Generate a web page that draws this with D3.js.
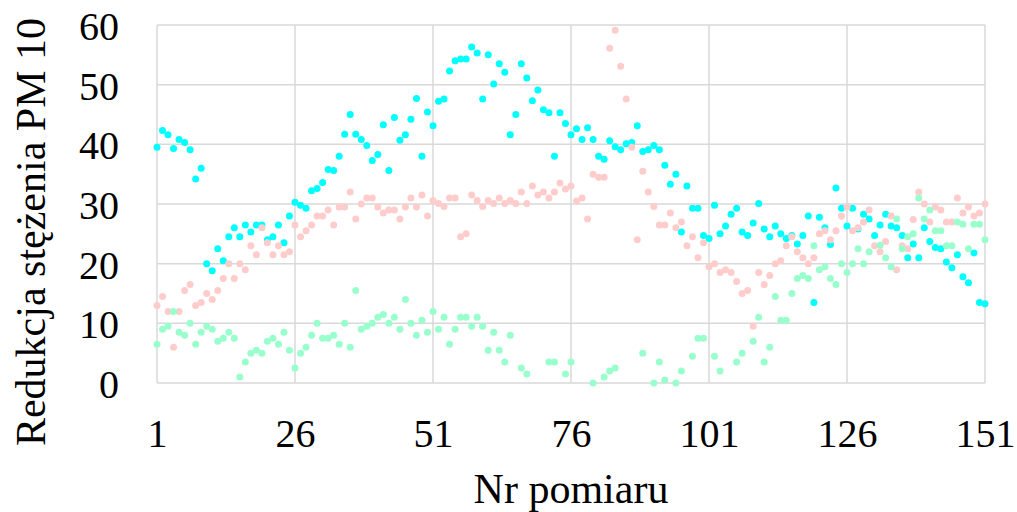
<!DOCTYPE html>
<html>
<head>
<meta charset="utf-8">
<script src="https://cdn.jsdelivr.net/npm/d3@7"></script>
<style>
  body { margin: 0; background: #fff; }
  text { font-family: "Liberation Serif", "Times New Roman", serif; fill: #000; }
</style>
</head>
<body>
<svg id="chart" width="1017" height="512"></svg>
<script>
// tick labels
const xTicks = [1, 26, 51, 76, 101, 126, 151]
const yTicks = [0, 10, 20, 30, 40, 50, 60]

// series values, measurement 1..151 (null = no point shown)
const cyanVals = [
  39.5, 42.3, 41.6, 39.3, 40.8, 40.3, 39.1, 34.2, 36.0, 20.0,
  18.8, 22.5, 20.5, 24.5, 26.0, 24.5, 26.5, 25.3, 26.5, 26.5,
  24.0, 24.5, 26.5, 23.5, 28.0, 30.3, 29.8, 29.3, 32.2, 32.6,
  33.6, 35.8, 35.6, 38.0, 41.7, 45.0, 41.7, 40.8, 39.8, 37.3,
  38.3, 43.3, 35.6, 44.5, 40.7, 41.6, 44.2, 47.7, 38.0, 45.4,
  43.1, 47.2, 47.6, 52.3, 54.0, 54.3, 54.3, 56.3, 55.3, 47.6,
  55.0, 50.1, 53.5, 52.1, 41.6, 45.0, 53.5, 51.1, 47.3, 49.1,
  45.8, 45.3, 38.0, 45.3, 43.5, 41.6, 42.6, 40.8, 42.8, 40.8,
  38.0, 37.5, 40.6, 39.6, 39.1, 40.1, 40.3, 43.1, 38.8, 39.1,
  39.8, 39.1, 36.5, 33.3, 35.0, 25.3, 33.0, 29.3, 29.3, 24.7,
  24.2, 29.8, 25.0, 26.3, 28.3, 29.3, 25.3, 24.7, 26.8, 30.1,
  25.8, 24.5, 26.3, 25.0, 24.2, 24.7, 23.3, 24.7, 28.0, 13.5,
  27.8, 26.0, 23.2, 32.7, 29.3, 26.3, 29.3, 25.8, 28.3, 27.5,
  24.7, 26.5, 28.3, 26.3, 26.0, 24.7, 21.0, 23.3, 21.0, 26.0,
  23.7, 22.7, 22.5, 20.3, 19.3, 21.5, 17.8, 16.8, 21.8, 13.5,
  13.3
]
const pinkVals = [
  13.0, 14.5, 12.0, 6.0, 12.0, 15.5, 16.5, 13.0, 13.5, 15.0,
  14.0, 15.5, 17.5, 20.0, 17.5, 20.0, 19.0, 23.0, 21.5, 26.0,
  23.5, 21.5, 23.0, 21.5, 22.0, 26.5, 24.5, 25.5, 26.5, 28.0,
  28.0, 29.0, 26.5, 29.5, 29.5, 32.0, 27.5, 30.0, 31.0, 31.0,
  29.5, 28.5, 29.0, 29.0, 27.5, 29.5, 31.0, 29.5, 31.5, 28.0,
  30.6, 30.1, 29.6, 31.0, 31.0, 24.5, 25.0, 31.5, 30.6, 29.6,
  30.6, 30.1, 31.0, 30.1, 30.6, 30.1, 32.0, 30.1, 33.0, 31.5,
  32.0, 31.0, 32.0, 33.5, 32.5, 33.0, 30.5, 31.0, 27.5, 35.0,
  34.5, 34.5, 56.1, 59.1, 53.1, 47.6, 39.5, 24.0, 35.5, 32.0,
  29.6, 26.5, 26.5, 28.5, 26.0, 27.0, 23.0, 24.5, 21.0, 23.5,
  19.5, 20.0, 18.5, 19.0, 18.5, 17.0, 15.0, 15.5, 9.5, 18.5,
  16.5, 18.0, 20.0, 20.5, 23.0, 24.5, 22.0, 21.0, 20.0, 21.0,
  25.0, 25.5, 24.0, 25.5, 28.0, 29.5, 25.5, 26.0, 27.0, 29.0,
  23.0, 22.0, 23.7, 28.0, 19.0, 23.0, 22.5, 27.4, 32.0, 30.0,
  27.0, 29.5, 29.0, 27.0, 27.0, 31.0, 28.5, 29.5, 28.0, 28.5,
  30.0
]
const greenVals = [
  6.5, 9.0, 9.5, 12.0, 8.5, 8.0, 10.0, 6.5, 8.5, 9.5,
  9.0, 7.0, 7.5, 8.5, 7.5, 1.0, 3.5, 5.0, 5.5, 5.0,
  7.0, 7.5, 6.5, 8.5, 5.5, 2.5, 5.0, 6.0, 8.0, 10.0,
  7.5, 7.5, 8.0, 6.5, 10.0, 6.0, 15.5, 9.0, 9.5, 10.0,
  11.0, 11.5, 10.0, 11.0, 9.0, 14.0, 10.0, 8.0, 10.5, 8.5,
  12.0, 9.0, 11.0, 6.5, 9.0, 11.0, 11.0, 9.5, 11.0, 9.5,
  5.5, 8.5, 5.5, 3.5, 8.0, null, 2.5, 1.5, null, null,
  null, 3.5, 3.5, null, 1.5, 3.5, null, null, null, 0.0,
  null, 1.0, 2.0, 2.5, null, null, null, null, 5.0, null,
  0.0, 3.5, 0.5, null, 0.0, 2.0, null, 4.5, 7.5, 7.5,
  null, 4.5, 2.0, null, null, 3.5, 5.0, null, 7.0, 11.0,
  3.5, 6.0, 14.5, 10.5, 10.5, 15.0, 17.5, 18.0, 17.5, 23.0,
  19.0, 19.5, 17.5, 16.5, 20.0, 18.5, 20.0, 22.5, 20.0, 22.0,
  null, 23.1, 21.0, 19.5, 27.5, 22.5, 24.5, 25.0, 31.0, 27.5,
  29.0, 25.5, 25.5, 23.0, 23.0, 27.0, 26.6, 22.5, 26.6, 26.6,
  24.0
]

const series = [
  {name: 'cyan', color: '#00ffff', values: cyanVals},
  {name: 'pink', color: '#ffcccc', values: pinkVals},
  {name: 'green', color: '#99ffcc', values: greenVals}
]

svg = d3.select('#chart')
left = 157
right = 985
top_ = 25
bottom = 383

x = d3.scaleLinear().domain([1, 151]).range([left, right])
y = d3.scaleLinear().domain([0, 60]).range([bottom, top_])

// grid
svg.append('g').selectAll('line').data(yTicks)
  .enter().append('line')
  .attr('x1', left).attr('x2', right)
  .attr('y1', function(d){ return y(d) }).attr('y2', function(d){ return y(d) })
  .style('stroke', '#d9d9d9').style('stroke-width', 1.5)

svg.append('g').selectAll('line').data(xTicks)
  .enter().append('line')
  .attr('x1', function(d){ return x(d) }).attr('x2', function(d){ return x(d) })
  .attr('y1', top_).attr('y2', bottom)
  .style('stroke', '#d9d9d9').style('stroke-width', 1.5)

// axes (labels only, grid drawn above)
yAxis = svg.append('g')
  .attr('transform', 'translate(' + (left - 38) + ',0)')
  .call(d3.axisLeft(y).tickValues(yTicks).tickSize(0).tickPadding(0))
yAxis.select('.domain').remove()
yAxis.selectAll('text')
  .style('font-family', '"Liberation Serif", "Times New Roman", serif')
  .style('font-size', '40px')
  .attr('dy', '0.36em')

xAxis = svg.append('g')
  .attr('transform', 'translate(0,' + bottom + ')')
  .call(d3.axisBottom(x).tickValues(xTicks).tickSize(0).tickPadding(0))
xAxis.select('.domain').remove()
xAxis.selectAll('text')
  .style('font-family', '"Liberation Serif", "Times New Roman", serif')
  .style('font-size', '40px')
  .attr('y', 64)
  .attr('dy', 0)

// points
series.forEach(function(s){
  svg.append('g').selectAll('circle')
    .data(s.values.map(function(v, i){ return {n: i + 1, v: v} }).filter(function(d){ return d.v !== null }))
    .enter().append('circle')
    .attr('cx', function(d){ return x(d.n) })
    .attr('cy', function(d){ return y(d.v) })
    .attr('r', 3.5)
    .attr('fill', s.color)
})

// axis titles
svg.append('text')
  .attr('x', (left + right) / 2)
  .attr('y', 503)
  .attr('text-anchor', 'middle')
  .style('font-size', '42px')
  .text('Nr pomiaru')

svg.append('text')
  .attr('transform', 'translate(45,232) rotate(-90)')
  .attr('text-anchor', 'middle')
  .style('font-size', '42px')
  .text('Redukcja stężenia PM 10')
</script>
</body>
</html>
